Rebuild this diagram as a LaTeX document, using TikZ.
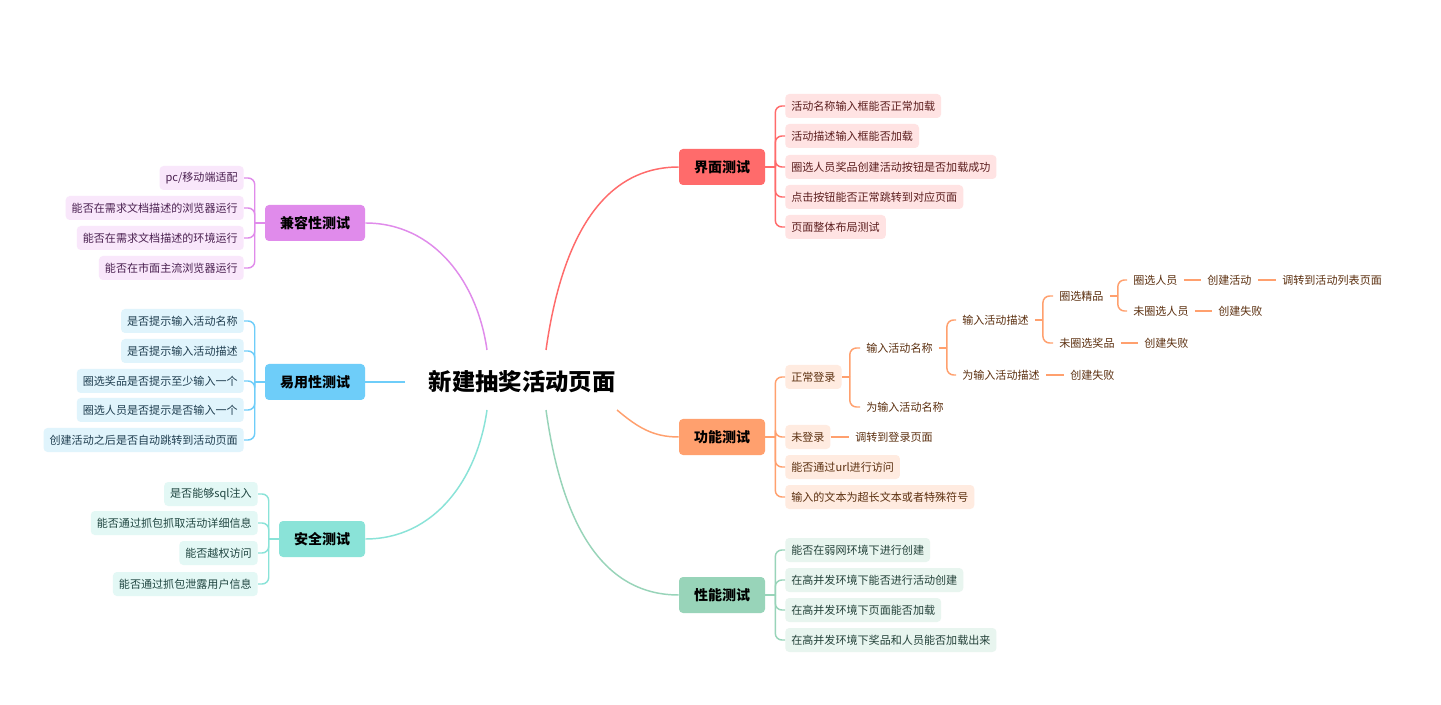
\documentclass[tikz,border=0pt]{standalone}
\usepackage{fontspec}
\setmainfont{Noto Sans CJK SC}
\usepackage{xcolor}
\usetikzlibrary{positioning}

% branch colours
\definecolor{jmMain}{HTML}{FF6B6B}
\definecolor{jmLeaf}{HTML}{FFE3E3}
\definecolor{jmText}{HTML}{5C1E1E}
\definecolor{gnMain}{HTML}{FFA06E}
\definecolor{gnLeaf}{HTML}{FFEBE0}
\definecolor{gnText}{HTML}{5C3010}
\definecolor{xnMain}{HTML}{98D4B9}
\definecolor{xnLeaf}{HTML}{E8F5EF}
\definecolor{xnText}{HTML}{24423A}
\definecolor{jrMain}{HTML}{E08BEB}
\definecolor{jrLeaf}{HTML}{F9E7FB}
\definecolor{jrText}{HTML}{4A2050}
\definecolor{yyMain}{HTML}{6ECDF9}
\definecolor{yyLeaf}{HTML}{E0F4FC}
\definecolor{yyText}{HTML}{1F3E50}
\definecolor{aqMain}{HTML}{8AE3D8}
\definecolor{aqLeaf}{HTML}{E3F8F5}
\definecolor{aqText}{HTML}{1F4540}

\tikzset{
  branch/.style={rounded corners=3pt, minimum height=27pt, inner xsep=11.25pt,
    inner ysep=0pt, font=\fontsize{10.5}{12}\selectfont\bfseries, text=black},
  leaf/.style={rounded corners=3pt, minimum height=18pt, inner xsep=4.5pt,
    inner ysep=0pt, font=\fontsize{8.3}{10}\selectfont},
  bare/.style={inner xsep=4.5pt, inner ysep=0pt, anchor=west,
    font=\fontsize{8.3}{10}\selectfont, text=gnText},
  link/.style={line width=1.1pt, rounded corners=5pt},
}

\begin{document}
\begin{tikzpicture}[x=0.75pt, y=-0.75pt]
    \useasboundingbox[fill=white] (0,0) rectangle (1441,705);
    % centre topic
    \node[font=\fontsize{17.5}{20}\selectfont\bfseries] (root) at (522,382) {新建抽奖活动页面};
    \coordinate (r1) at (546,350);
    \coordinate (r2) at (617,410);
    \coordinate (r3) at (546,410);
    \coordinate (r4) at (487,350);
    \coordinate (r5) at (405,382);
    \coordinate (r6) at (487,410);

    % main branches
    \node[branch, fill=jmMain] (jm) at (722,167) {界面测试};
    \node[branch, fill=gnMain] (gn) at (722,437) {功能测试};
    \node[branch, fill=xnMain] (xn) at (722,595) {性能测试};
    \node[branch, fill=jrMain] (jr) at (315,223) {兼容性测试};
    \node[branch, fill=yyMain] (yy) at (315,382) {易用性测试};
    \node[branch, fill=aqMain] (aq) at (322,539) {安全测试};

    \draw[link, jmMain] (r1) to[out=82, in=180] (jm.west);
    \draw[link, gnMain] (r2) to[out=-40, in=180] (gn.west);
    \draw[link, xnMain] (r3) to[out=-82, in=180] (xn.west);
    \draw[link, jrMain] (r4) to[out=98, in=0] (jr.east);
    \draw[link, yyMain] (r5) -- (yy.east);
    \draw[link, aqMain] (r6) to[out=-98, in=0] (aq.east);

    % 界面测试
    \draw[link, jmMain] (jm.east) -- ++(10,0) coordinate (jms);
    \foreach \i/\y/\t in {1/106/活动名称输入框能否正常加载, 2/136/活动描述输入框能否加载,
        3/167/圈选人员奖品创建活动按钮是否加载成功, 4/197/点击按钮能否正常跳转到对应页面,
        5/227/页面整体布局测试} {
      \node[leaf, fill=jmLeaf, text=jmText, anchor=west] (jm\i) at (785,\y) {\t};
      \draw[link, jmMain] (jms) |- (jm\i.west);
    }

    % 性能测试
    \draw[link, xnMain] (xn.east) -- ++(10,0) coordinate (xns);
    \foreach \i/\y/\t in {1/550/能否在弱网环境下进行创建, 2/580/在高并发环境下能否进行活动创建,
        3/610/在高并发环境下页面能否加载, 4/640/在高并发环境下奖品和人员能否加载出来} {
      \node[leaf, fill=xnLeaf, text=xnText, anchor=west] (xn\i) at (785,\y) {\t};
      \draw[link, xnMain] (xns) |- (xn\i.west);
    }

    % 兼容性测试
    \draw[link, jrMain] (jr.west) -- ++(-10,0) coordinate (jrs);
    \foreach \i/\y/\t in {1/178/{pc/移动端适配}, 2/208/能否在需求文档描述的浏览器运行,
        3/238/能否在需求文档描述的环境运行, 4/268/能否在市面主流浏览器运行} {
      \node[leaf, fill=jrLeaf, text=jrText, anchor=east] (jr\i) at (244,\y) {\t};
      \draw[link, jrMain] (jrs) |- (jr\i.east);
    }

    % 易用性测试
    \draw[link, yyMain] (yy.west) -- ++(-10,0) coordinate (yys);
    \foreach \i/\y/\t in {1/321/是否提示输入活动名称, 2/351/是否提示输入活动描述,
        3/381/圈选奖品是否提示至少输入一个, 4/410/圈选人员是否提示是否输入一个,
        5/440/创建活动之后是否自动跳转到活动页面} {
      \node[leaf, fill=yyLeaf, text=yyText, anchor=east] (yy\i) at (244,\y) {\t};
      \draw[link, yyMain] (yys) |- (yy\i.east);
    }

    % 安全测试
    \draw[link, aqMain] (aq.west) -- ++(-10,0) coordinate (aqs);
    \foreach \i/\y/\t in {1/494/是否能够sql注入, 2/523/能否通过抓包抓取活动详细信息,
        3/553/能否越权访问, 4/584/能否通过抓包泄露用户信息} {
      \node[leaf, fill=aqLeaf, text=aqText, anchor=east] (aq\i) at (258,\y) {\t};
      \draw[link, aqMain] (aqs) |- (aq\i.east);
    }

    % 功能测试
    \draw[link, gnMain] (gn.east) -- ++(10,0) coordinate (gns);
    \foreach \i/\y/\t in {1/377/正常登录, 2/437/未登录, 3/467/能否通过url进行访问,
        4/497/输入的文本为超长文本或者特殊符号} {
      \node[leaf, fill=gnLeaf, text=gnText, anchor=west] (gn\i) at (785,\y) {\t};
      \draw[link, gnMain] (gns) |- (gn\i.west);
    }
    \node[bare] (e1) at (849,437) {调转到登录页面};
    \draw[link, gnMain] (gn2) -- (e1);

    % 正常登录 sub tree
    \node[bare] (a1) at (860,348) {输入活动名称};
    \node[bare] (a2) at (860,407) {为输入活动名称};
    \node[bare] (b1) at (956,320) {输入活动描述};
    \node[bare] (b2) at (956,375) {为输入活动描述};
    \node[bare] (b3) at (1064,375) {创建失败};
    \node[bare] (c1) at (1053,296) {圈选精品};
    \node[bare] (c2) at (1053,343) {未圈选奖品};
    \node[bare] (c3) at (1138,343) {创建失败};
    \node[bare] (d1) at (1127,280) {圈选人员};
    \node[bare] (d2) at (1201,280) {创建活动};
    \node[bare] (d3) at (1276,280) {调转到活动列表页面};
    \node[bare] (d4) at (1127,311) {未圈选人员};
    \node[bare] (d5) at (1212,311) {创建失败};

    \draw[link, gnMain] (gn1.east) -- ++(8,0) coordinate (gn1s);
    \draw[link, gnMain] (gn1s) |- (a1.west);
    \draw[link, gnMain] (gn1s) |- (a2.west);
    \draw[link, gnMain] (a1.east) -- ++(8,0) coordinate (a1s);
    \draw[link, gnMain] (a1s) |- (b1.west);
    \draw[link, gnMain] (a1s) |- (b2.west);
    \draw[link, gnMain] (b1.east) -- ++(8,0) coordinate (b1s);
    \draw[link, gnMain] (b1s) |- (c1.west);
    \draw[link, gnMain] (b1s) |- (c2.west);
    \draw[link, gnMain] (c1.east) -- ++(8,0) coordinate (c1s);
    \draw[link, gnMain] (c1s) |- (d1.west);
    \draw[link, gnMain] (c1s) |- (d4.west);
    \draw[link, gnMain] (b2) -- (b3);
    \draw[link, gnMain] (c2) -- (c3);
    \draw[link, gnMain] (d1) -- (d2);
    \draw[link, gnMain] (d2) -- (d3);
    \draw[link, gnMain] (d4) -- (d5);
  \end{tikzpicture}
\end{document}
